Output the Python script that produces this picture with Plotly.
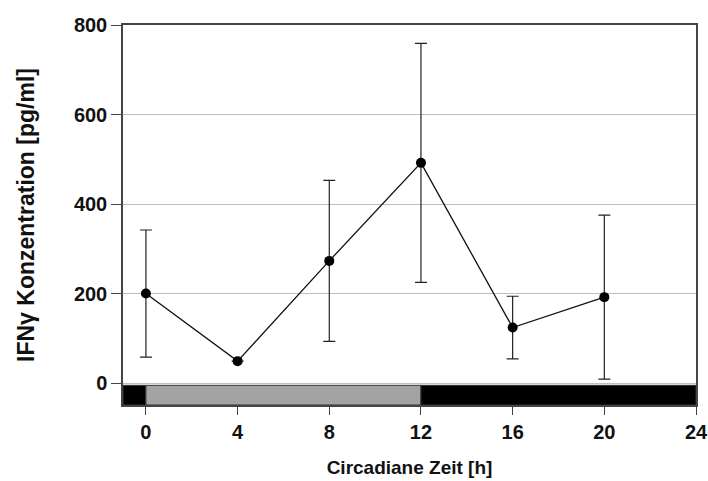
import plotly.graph_objects as go

# Circadian time points [h] and IFN-gamma concentration (mean ± SD) [pg/ml]
zeit = [0, 4, 8, 12, 16, 20]
ifn_mittel = [200, 49, 273, 492, 124, 192]
ifn_sd = [142, None, 180, 267, 70, 183]

x_ticks = [0, 4, 8, 12, 16, 20, 24]
y_ticks = [0, 200, 400, 600, 800]

# Light/dark phase bar below the data: boundaries [h] and fill colours
phase_grenzen = [-1, 0, 12, 24]
phase_farben = ["black", "#a3a3a3", "black"]

FONT = "Liberation Sans, Arial, sans-serif"

fig = go.Figure()
fig.add_trace(go.Scatter(
    x=zeit, y=ifn_mittel,
    mode="lines+markers",
    line=dict(color="#111111", width=1.3),
    marker=dict(color="black", size=10),
    error_y=dict(type="data", array=ifn_sd, visible=True,
                 color="#222222", thickness=1.2, width=6),
    showlegend=False,
))

for x0, x1, farbe in zip(phase_grenzen[:-1], phase_grenzen[1:], phase_farben):
    fig.add_shape(type="rect", xref="x", yref="y",
                  x0=x0, x1=x1, y0=-49, y1=-5,
                  fillcolor=farbe, line=dict(color="#333333", width=1),
                  layer="above")

fig.update_layout(
    width=708, height=481,
    margin=dict(l=123, r=12, t=25, b=76),
    plot_bgcolor="white", paper_bgcolor="white",
    font=dict(family=FONT, color="#111111", size=20, weight="bold"),
    xaxis=dict(
        range=[-1, 24], tickvals=x_ticks, ticks="outside", ticklen=8,
        tickcolor="#444444", showline=True, linecolor="#444444", linewidth=1.5,
        mirror=True, showgrid=False, zeroline=False, automargin=False,
        ticklabeloverflow="allow",
        tickfont=dict(family=FONT, size=20, weight="bold"),
        title=dict(text="Circadiane Zeit [h]", standoff=19,
                   font=dict(family=FONT, size=19, weight="bold")),
    ),
    yaxis=dict(
        range=[-49, 800], tickvals=y_ticks, ticks="outside", ticklen=10,
        tickcolor="#444444", showline=True, linecolor="#444444", linewidth=1.5,
        mirror=True, showgrid=True, gridcolor="#bdbdbd", gridwidth=1,
        zeroline=False, automargin=False,
        tickfont=dict(family=FONT, size=20, weight="bold"),
        title=dict(text="IFNγ Konzentration [pg/ml]", standoff=33,
                   font=dict(family=FONT, size=23, weight="bold")),
    ),
)

fig.write_html("out.html")
